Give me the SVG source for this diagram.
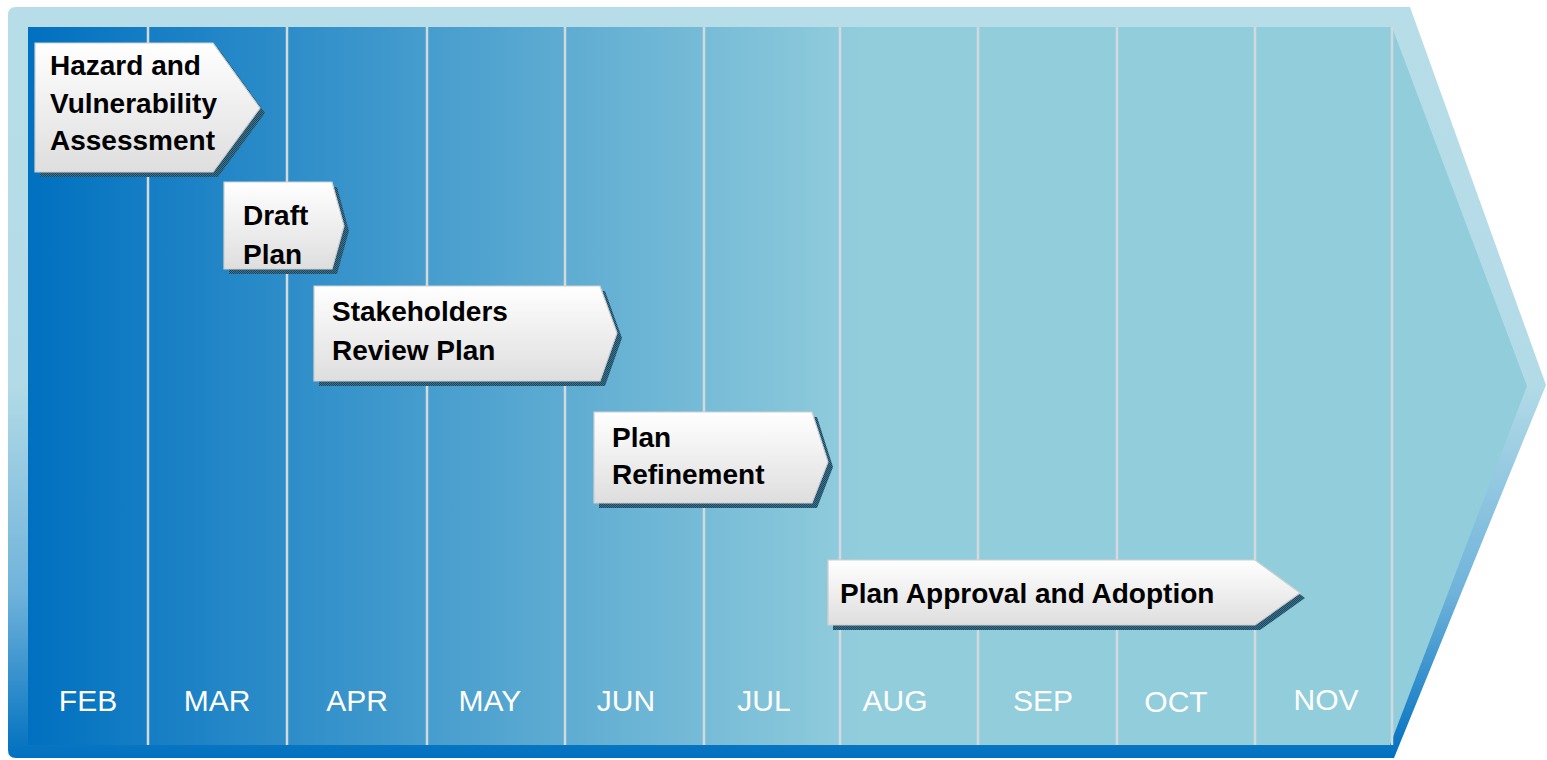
<svg xmlns="http://www.w3.org/2000/svg" width="1547" height="760" viewBox="0 0 1547 760">
<defs>
<linearGradient id="outerG" gradientUnits="userSpaceOnUse" x1="0" y1="7" x2="0" y2="758">
<stop offset="0" stop-color="#b7dde8"/>
<stop offset="0.5" stop-color="#b3dbe7"/>
<stop offset="0.78" stop-color="#6fb3da"/>
<stop offset="1" stop-color="#0070c0"/>
</linearGradient>
<linearGradient id="innerG" gradientUnits="userSpaceOnUse" x1="28" y1="0" x2="860" y2="0">
<stop offset="0" stop-color="#0070c0"/>
<stop offset="1" stop-color="#92cddc"/>
</linearGradient>
<linearGradient id="boxG" x1="0" y1="0" x2="0" y2="1">
<stop offset="0" stop-color="#ffffff"/>
<stop offset="1" stop-color="#dedede"/>
</linearGradient>
<pattern id="shadowP" width="2" height="2" patternUnits="userSpaceOnUse">
<rect width="2" height="2" fill="#3d6f88"/>
<rect width="1" height="1" fill="#1e4a63"/>
<rect x="1" y="1" width="1" height="1" fill="#1e4a63"/>
</pattern>
</defs>
<style>
.sep{stroke:#d3dadd;stroke-width:2.5}
.mon{font-family:"Liberation Sans",Arial,sans-serif;font-size:30px;fill:#ffffff;text-anchor:middle}
.lbl{font-family:"Liberation Sans",Arial,sans-serif;font-size:28px;font-weight:bold;fill:#000000}
.box{fill:url(#boxG);stroke:#cfcfcf;stroke-width:1.2}
.shd{fill:url(#shadowP)}
</style>
<g id="background">
<path d="M16,7 H1410 L1546,385 L1394,758 H16 Q8,758 8,750 V15 Q8,7 16,7 Z" fill="url(#outerG)"/>
<path d="M28,27 H1392 L1527,386 L1390,745 H28 Z" fill="url(#innerG)"/>
</g>
<g id="separators">
<line class="sep" x1="148" y1="27" x2="148" y2="745"/>
<line class="sep" x1="287" y1="27" x2="287" y2="745"/>
<line class="sep" x1="427" y1="27" x2="427" y2="745"/>
<line class="sep" x1="565" y1="27" x2="565" y2="745"/>
<line class="sep" x1="704" y1="27" x2="704" y2="745"/>
<line class="sep" x1="840" y1="27" x2="840" y2="745"/>
<line class="sep" x1="978" y1="27" x2="978" y2="745"/>
<line class="sep" x1="1117" y1="27" x2="1117" y2="745"/>
<line class="sep" x1="1255" y1="27" x2="1255" y2="745"/>
<line class="sep" x1="1392" y1="27" x2="1392" y2="745"/>
</g>
<g id="months">
<text class="mon" x="88" y="711">FEB</text>
<text class="mon" x="217" y="711">MAR</text>
<text class="mon" x="357" y="711">APR</text>
<text class="mon" x="490" y="711">MAY</text>
<text class="mon" x="626" y="711">JUN</text>
<text class="mon" x="764" y="711">JUL</text>
<text class="mon" x="895" y="711">AUG</text>
<text class="mon" x="1043" y="711">SEP</text>
<text class="mon" x="1176" y="712">OCT</text>
<text class="mon" x="1326" y="710">NOV</text>
</g>
<g id="node-hazard">
<polygon class="shd" points="40,48 218,48 265,113 218,177 40,177"/>
<polygon class="box" points="35,43 213,43 260,108 213,172 35,172"/>
<text class="lbl" x="50" y="75">Hazard and</text>
<text class="lbl" x="50" y="113">Vulnerability</text>
<text class="lbl" x="50" y="150">Assessment</text>
</g>
<g id="node-draft">
<polygon class="shd" points="229,187 337,187 349,231 337,274 229,274"/>
<polygon class="box" points="224,182 332,182 344,226 332,269 224,269"/>
<text class="lbl" x="243" y="225">Draft</text>
<text class="lbl" x="243" y="264">Plan</text>
</g>
<g id="node-stakeholders">
<polygon class="shd" points="319,291 605,291 622,338 605,386 319,386"/>
<polygon class="box" points="314,286 600,286 617,333 600,381 314,381"/>
<text class="lbl" x="332" y="321">Stakeholders</text>
<text class="lbl" x="332" y="360">Review Plan</text>
</g>
<g id="node-refinement">
<polygon class="shd" points="599,417 817,417 833,467 817,508 599,508"/>
<polygon class="box" points="594,412 812,412 828,462 812,503 594,503"/>
<text class="lbl" x="612" y="447">Plan</text>
<text class="lbl" x="612" y="484">Refinement</text>
</g>
<g id="node-approval">
<polygon class="shd" points="833,565 1260,565 1305,598 1260,630 833,630"/>
<polygon class="box" points="828,560 1255,560 1300,593 1255,625 828,625"/>
<text class="lbl" x="840" y="603">Plan Approval and Adoption</text>
</g>
<g id="connectors"></g>
</svg>
